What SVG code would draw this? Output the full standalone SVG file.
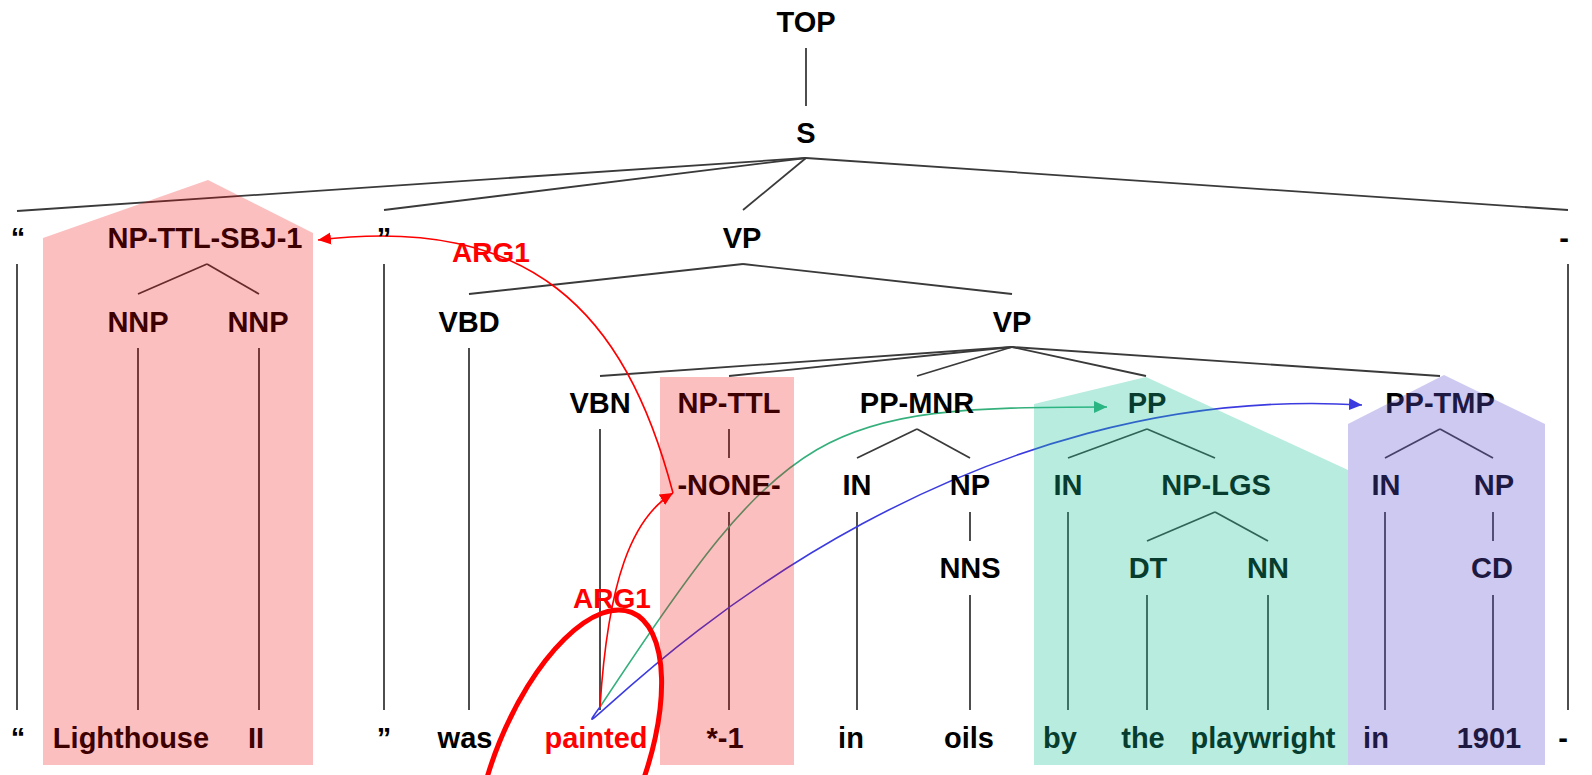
<svg xmlns="http://www.w3.org/2000/svg" width="1592" height="775" viewBox="0 0 1592 775">
  <style>
    .n { font-family: "Liberation Sans", Arial, sans-serif; font-weight: bold; font-size: 29px; text-anchor: middle; fill: #000; }
    .red { fill: #f00; }
    .lab { font-family: "Liberation Sans", Arial, sans-serif; font-weight: bold; font-size: 28px; text-anchor: middle; fill: #f00; }
    .e { stroke: #3a3a3a; stroke-width: 1.8; fill: none; }
    .arr { fill: none; stroke-width: 1.6; }
    .ov-red { fill: rgb(240,0,0); fill-opacity: 0.25; }
    .ov-green { fill: rgb(23,194,148); fill-opacity: 0.31; }
    .ov-blue { fill: rgb(97,81,210); fill-opacity: 0.31; }
  </style>
  <defs>
    <marker id="head-red" markerUnits="userSpaceOnUse" viewBox="0 0 14 14" markerWidth="14" markerHeight="14" refX="13" refY="7" orient="auto">
      <path d="M0,1 L13,7 L0,13 z" fill="#f00"/>
    </marker>
    <marker id="head-green" markerUnits="userSpaceOnUse" viewBox="0 0 14 14" markerWidth="14" markerHeight="14" refX="13" refY="7" orient="auto">
      <path d="M0,1 L13,7 L0,13 z" fill="#35b07c"/>
    </marker>
    <marker id="head-blue" markerUnits="userSpaceOnUse" viewBox="0 0 14 14" markerWidth="14" markerHeight="14" refX="13" refY="7" orient="auto">
      <path d="M0,1 L13,7 L0,13 z" fill="#3b3be0"/>
    </marker>
  </defs>

  <rect width="1592" height="775" fill="#fff"/>

  <!-- tree branches and argument arrows -->
  <g id="connectors">
    <g id="branches">
      <line class="e" x1="806" y1="48" x2="806" y2="106"/>
      <!-- S -->
      <line class="e" x1="806" y1="158" x2="17" y2="211"/>
      <line class="e" x1="806" y1="158" x2="384" y2="210"/>
      <line class="e" x1="806" y1="158" x2="743" y2="210"/>
      <line class="e" x1="806" y1="158" x2="1568" y2="210"/>
      <!-- row 2 -->
      <line class="e" x1="17" y1="264" x2="17" y2="710"/>
      <line class="e" x1="207" y1="264" x2="138" y2="294"/>
      <line class="e" x1="207" y1="264" x2="259" y2="294"/>
      <line class="e" x1="384" y1="264" x2="384" y2="710"/>
      <line class="e" x1="743" y1="264" x2="469" y2="294"/>
      <line class="e" x1="743" y1="264" x2="1012" y2="294"/>
      <line class="e" x1="1568" y1="264" x2="1568" y2="710"/>
      <!-- row 3 -->
      <line class="e" x1="138" y1="348" x2="138" y2="710"/>
      <line class="e" x1="259" y1="348" x2="259" y2="710"/>
      <line class="e" x1="469" y1="348" x2="469" y2="710"/>
      <line class="e" x1="1012" y1="347" x2="600" y2="376"/>
      <line class="e" x1="1012" y1="347" x2="729" y2="376"/>
      <line class="e" x1="1012" y1="347" x2="917" y2="376"/>
      <line class="e" x1="1012" y1="347" x2="1146" y2="376"/>
      <line class="e" x1="1012" y1="347" x2="1440" y2="376"/>
      <!-- row 4 -->
      <line class="e" x1="600" y1="429" x2="600" y2="710"/>
      <line class="e" x1="729" y1="429" x2="729" y2="458"/>
      <line class="e" x1="917" y1="429" x2="857" y2="458"/>
      <line class="e" x1="917" y1="429" x2="970" y2="458"/>
      <line class="e" x1="1147" y1="429" x2="1068" y2="458"/>
      <line class="e" x1="1147" y1="429" x2="1215" y2="458"/>
      <line class="e" x1="1440" y1="429" x2="1385" y2="458"/>
      <line class="e" x1="1440" y1="429" x2="1493" y2="458"/>
      <!-- row 5 -->
      <line class="e" x1="729" y1="512" x2="729" y2="710"/>
      <line class="e" x1="857" y1="512" x2="857" y2="710"/>
      <line class="e" x1="970" y1="512" x2="970" y2="541"/>
      <line class="e" x1="1068" y1="512" x2="1068" y2="710"/>
      <line class="e" x1="1215" y1="512" x2="1147" y2="541"/>
      <line class="e" x1="1215" y1="512" x2="1268" y2="541"/>
      <line class="e" x1="1385" y1="512" x2="1385" y2="710"/>
      <line class="e" x1="1493" y1="512" x2="1493" y2="541"/>
      <!-- row 6 -->
      <line class="e" x1="970" y1="595" x2="970" y2="710"/>
      <line class="e" x1="1147" y1="595" x2="1147" y2="710"/>
      <line class="e" x1="1268" y1="595" x2="1268" y2="710"/>
      <line class="e" x1="1493" y1="595" x2="1493" y2="710"/>
    </g>
    <g id="arguments">
      <path class="arr" stroke="#3b3be0" d="M600,707 C535,795 870,375 1362,405" marker-end="url(#head-blue)"/>
      <path class="arr" stroke="#35b07c" d="M600,707 C788,421 821,407 1107,407" marker-end="url(#head-green)"/>
      <path class="arr" stroke="#f00" d="M600,707 C608,580 632,518 673,493" marker-end="url(#head-red)"/>
      <path class="arr" stroke="#f00" d="M673,493 C625,310 530,215 318,240" marker-end="url(#head-red)"/>
    </g>
  </g>

  <!-- phrase nodes -->
  <g id="n-top"><text class="n" x="806" y="32">TOP</text></g>
  <g id="n-s"><text class="n" x="806" y="143">S</text></g>
  <g id="n-lq"><text class="n" x="18" y="248">“</text></g>
  <g id="n-np-ttl-sbj"><text class="n" x="205" y="248">NP-TTL-SBJ-1</text></g>
  <g id="n-rq"><text class="n" x="384" y="248">”</text></g>
  <g id="n-vp1"><text class="n" x="742" y="248">VP</text></g>
  <g id="n-dash"><text class="n" x="1564" y="248">-</text></g>
  <g id="n-nnp1"><text class="n" x="138" y="332">NNP</text></g>
  <g id="n-nnp2"><text class="n" x="258" y="332">NNP</text></g>
  <g id="n-vbd"><text class="n" x="469" y="332">VBD</text></g>
  <g id="n-vp2"><text class="n" x="1012" y="332">VP</text></g>
  <g id="n-vbn"><text class="n" x="600" y="413">VBN</text></g>
  <g id="n-np-ttl"><text class="n" x="729" y="413">NP-TTL</text></g>
  <g id="n-pp-mnr"><text class="n" x="917" y="413">PP-MNR</text></g>
  <g id="n-pp"><text class="n" x="1147" y="413">PP</text></g>
  <g id="n-pp-tmp"><text class="n" x="1440" y="413">PP-TMP</text></g>
  <g id="n-none"><text class="n" x="729" y="495">-NONE-</text></g>
  <g id="n-in1"><text class="n" x="857" y="495">IN</text></g>
  <g id="n-np1"><text class="n" x="970" y="495">NP</text></g>
  <g id="n-in2"><text class="n" x="1068" y="495">IN</text></g>
  <g id="n-np-lgs"><text class="n" x="1216" y="495">NP-LGS</text></g>
  <g id="n-in3"><text class="n" x="1386" y="495">IN</text></g>
  <g id="n-np2"><text class="n" x="1494" y="495">NP</text></g>
  <g id="n-nns"><text class="n" x="970" y="578">NNS</text></g>
  <g id="n-dt"><text class="n" x="1148" y="578">DT</text></g>
  <g id="n-nn"><text class="n" x="1268" y="578">NN</text></g>
  <g id="n-cd"><text class="n" x="1492" y="578">CD</text></g>

  <!-- words -->
  <g id="w-lq"><text class="n" x="18" y="748">“</text></g>
  <g id="w-lighthouse"><text class="n" x="131" y="748">Lighthouse</text></g>
  <g id="w-ii"><text class="n" x="256" y="748">II</text></g>
  <g id="w-rq"><text class="n" x="384" y="748">”</text></g>
  <g id="w-was"><text class="n" x="465" y="748">was</text></g>
  <g id="w-painted"><text class="n red" x="596" y="748">painted</text></g>
  <g id="w-trace"><text class="n" x="725" y="748">*-1</text></g>
  <g id="w-in1"><text class="n" x="851" y="748">in</text></g>
  <g id="w-oils"><text class="n" x="969" y="748">oils</text></g>
  <g id="w-by"><text class="n" x="1060" y="748">by</text></g>
  <g id="w-the"><text class="n" x="1143" y="748">the</text></g>
  <g id="w-playwright"><text class="n" x="1263" y="748">playwright</text></g>
  <g id="w-in2"><text class="n" x="1376" y="748">in</text></g>
  <g id="w-1901"><text class="n" x="1489" y="748">1901</text></g>
  <g id="w-dash"><text class="n" x="1563" y="748">-</text></g>

  <!-- argument labels -->
  <g id="lab-arg1-a"><text class="lab" x="612" y="608">ARG1</text></g>
  <g id="lab-arg1-b"><text class="lab" x="491" y="262">ARG1</text></g>

  <!-- highlighted constituents -->
  <g id="highlights">
    <polygon class="ov-red" points="43,765 43,238 208,180 313,233 313,765"/>
    <rect class="ov-red" x="660" y="377" width="134" height="388"/>
    <polygon class="ov-green" points="1034,765 1034,404 1146,377 1348,470 1348,765"/>
    <polygon class="ov-blue" points="1348,765 1348,424 1444,375 1545,424 1545,765"/>
  </g>

  <!-- predicate ring -->
  <g id="predicate-ring">
    <ellipse cx="568" cy="770" rx="74" ry="170" transform="rotate(22 568 770)" fill="none" stroke="#f00" stroke-width="5"/>
  </g>
</svg>
